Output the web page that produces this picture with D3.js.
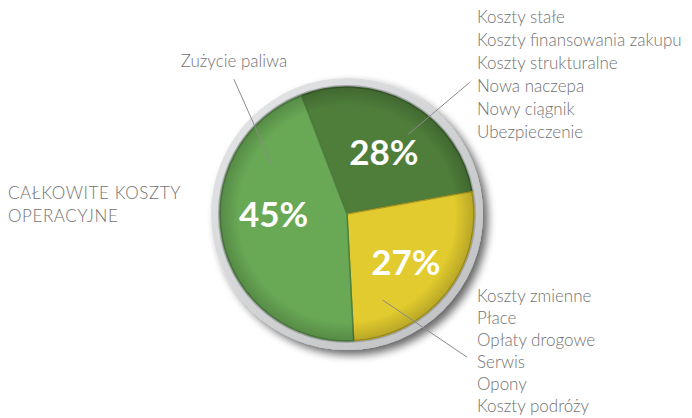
<!DOCTYPE html>
<html>
<head>
<meta charset="utf-8">
<script src="https://cdn.jsdelivr.net/npm/d3@7"></script>
<style>
  body { margin:0; background:#fff; }
  text { font-family: Lato, "Open Sans", sans-serif; }
  .lbl { fill:#727272; font-size:17px; font-weight:300; }
  .pct { fill:#fff; font-size:35px; font-weight:700; }
</style>
</head>
<body>
<div class="pie"></div>
<script>
// data
const slices = ["Koszty stałe", "Koszty zmienne", "Zużycie paliwa"]
const shares = [28, 27, 45]
const colours = ["#4f7e3b", "#e1cb2e", "#69a955"]
const fixedCosts = ["Koszty stałe", "Koszty finansowania zakupu", "Koszty strukturalne", "Nowa naczepa", "Nowy ciągnik", "Ubezpieczenie"]
const variableCosts = ["Koszty zmienne", "Płace", "Opłaty drogowe", "Serwis", "Opony", "Koszty podróży"]
const title = ["CAŁKOWITE KOSZTY", "OPERACYJNE"]

const svg = d3.select(".pie").append("svg").attr("width",692).attr("height",418)
const cx = 347, cy = 214, radius = 127

const defs = svg.append("defs")
const shadow = defs.append("filter").attr("id","shadow").attr("x","-20%").attr("y","-20%").attr("width","140%").attr("height","140%")
shadow.append("feGaussianBlur").attr("in","SourceAlpha").attr("stdDeviation",4)
shadow.append("feOffset").attr("dx",5).attr("dy",5).attr("result","b")
shadow.append("feComponentTransfer").append("feFuncA").attr("type","linear").attr("slope",0.6)
const merge = shadow.append("feMerge")
merge.append("feMergeNode")
merge.append("feMergeNode").attr("in","SourceGraphic")

const rimGrad = defs.append("linearGradient").attr("id","rim").attr("x1","0").attr("y1","0").attr("x2","1").attr("y2","1")
rimGrad.append("stop").attr("offset","0%").attr("stop-color","#e6e8ea")
rimGrad.append("stop").attr("offset","100%").attr("stop-color","#bcbec0")

const shade = defs.append("radialGradient").attr("id","shade").attr("cx","0.5").attr("cy","0.5").attr("r","0.5")
shade.append("stop").attr("offset","85%").attr("stop-color","#000").attr("stop-opacity",0)
shade.append("stop").attr("offset","100%").attr("stop-color","#000").attr("stop-opacity",0.18)

const g = svg.append("g").attr("transform",`translate(${cx},${cy})`)

// rim
g.append("circle").attr("r",radius+9).attr("fill","url(#rim)").attr("filter","url(#shadow)")
g.append("circle").attr("r",radius+2).attr("fill","#a2a4a6")

const colourScale = d3.scaleOrdinal().domain(slices).range(colours)
const pie = d3.pie().sort(null).value(d=>d.value)
  .startAngle(-21*Math.PI/180).endAngle(339*Math.PI/180)
const arcPath = d3.arc().outerRadius(radius).innerRadius(0)
const labelArc = d3.arc().outerRadius(150).innerRadius(0)

const data = slices.map((s,i)=>({name:s, value:shares[i]}))
const angles = pie(data)

g.selectAll("path.arc").data(angles).enter().append("path").attr("class","arc")
  .attr("d",arcPath).attr("fill",d=>colourScale(d.data.name))
  .attr("stroke",d=>d3.color(colourScale(d.data.name)).darker(0.8)).attr("stroke-width",1.5)
g.append("circle").attr("r",radius).attr("fill","url(#shade)")

// leader lines: position inside slice (fraction of angle, radius) -> outside point
const leaders = [
  {slice:0, f:0.58, r1:100, a2:43, r2:180},
  {slice:1, f:0.80, r1:93, a2:140, r2:187},
  {slice:2, f:0.78, r1:90, a2:320, r2:176}
]
const pt = (a,r)=>[r*Math.sin(a), -r*Math.cos(a)]
leaders.forEach(l=>{
  const s = angles[l.slice]
  const a1 = s.startAngle + l.f*(s.endAngle-s.startAngle)
  const p1 = pt(a1,l.r1), p2 = pt(l.a2*Math.PI/180,l.r2)
  g.append("line").attr("x1",p1[0]).attr("y1",p1[1]).attr("x2",p2[0]).attr("y2",p2[1])
    .attr("stroke","#8a8a8a").attr("stroke-width",1)
})

// percentage labels (small vertical nudges to sit like the original)
const nudge = [4, 2, -15]
g.selectAll("text.pct").data(angles).enter().append("text").attr("class","pct")
  .attr("transform",(d,i)=>{
    const c = labelArc.centroid(d)
    return `translate(${c[0]},${c[1]+nudge[i]})`
  })
  .attr("text-anchor","middle").attr("dy","0.36em")
  .text(d=>d.data.value+"%")

// lists
svg.append("g").selectAll("text").data(fixedCosts).enter().append("text").attr("class","lbl")
  .attr("x",477).attr("y",(d,i)=>23+i*23).text(d=>d)
svg.append("g").selectAll("text").data(variableCosts).enter().append("text").attr("class","lbl")
  .attr("x",477).attr("y",(d,i)=>302+i*22).text(d=>d)
svg.append("text").attr("class","lbl").attr("x",234).attr("y",67).attr("text-anchor","middle").text(slices[2])
svg.append("g").selectAll("text").data(title).enter().append("text").attr("class","lbl")
  .attr("x",8).attr("y",(d,i)=>199+i*23).attr("letter-spacing",0.6).text(d=>d)
</script>
</body>
</html>
